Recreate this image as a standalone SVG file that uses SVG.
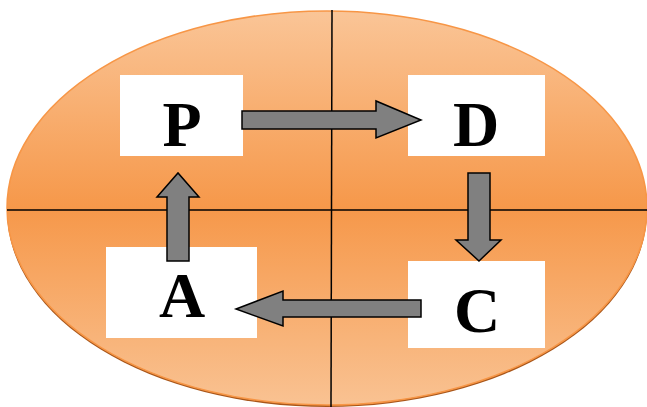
<svg xmlns="http://www.w3.org/2000/svg" width="647" height="407" viewBox="0 0 647 407">
  <defs>
    <linearGradient id="bodyFill" x1="0" y1="0" x2="0" y2="1">
      <stop offset="0" stop-color="#fac597"/>
      <stop offset="0.5" stop-color="#f6984a"/>
      <stop offset="1" stop-color="#f9c292"/>
    </linearGradient>
    <style>
      .box { fill: #ffffff; }
      .label { font-family: "Liberation Serif", "Times New Roman", serif; font-weight: bold; font-size: 64px; fill: #000000; text-anchor: middle; }
      .arrow { fill: #808080; stroke: #000000; stroke-width: 1.5; stroke-linejoin: miter; }
      .axis { stroke: #000000; stroke-width: 1.5; }
    </style>
  </defs>

  <!-- background oval with soft shadow -->
  <ellipse cx="327" cy="211" rx="320" ry="196" fill="#a8561a"/>
  <ellipse cx="327" cy="208" rx="320" ry="197" fill="url(#bodyFill)" stroke="#f79646" stroke-width="1.5"/>

  <!-- quadrant axes -->
  <g id="axes">
    <line class="axis" x1="332" y1="10" x2="331" y2="407"/>
    <line class="axis" x1="7" y1="210" x2="647" y2="210"/>
  </g>

  <g id="node-P">
    <rect class="box" x="120" y="75" width="123" height="81"/>
    <text class="label" x="182" y="146">P</text>
  </g>
  <g id="node-D">
    <rect class="box" x="408" y="75" width="137" height="81"/>
    <text class="label" x="476" y="146">D</text>
  </g>
  <g id="node-C">
    <rect class="box" x="408" y="261" width="137" height="87"/>
    <text class="label" x="477" y="332">C</text>
  </g>
  <g id="node-A">
    <rect class="box" x="106" y="247" width="151" height="91"/>
    <text class="label" x="182" y="317">A</text>
  </g>

  <g id="connectors">
    <!-- P to D -->
    <path class="arrow" d="M242,111 H376 V101 L421,120 L376,138 V129 H242 Z"/>
    <!-- D to C -->
    <path class="arrow" d="M468,173 H490 V240 H501 L479,261 L456,240 H468 Z"/>
    <!-- C to A -->
    <path class="arrow" d="M421,300 H283 V291 L236,309 L283,326 V317 H421 Z"/>
    <!-- A to P -->
    <path class="arrow" d="M167,261 V197 H157 L178,173 L199,197 H189 V261 Z"/>
  </g>
</svg>
